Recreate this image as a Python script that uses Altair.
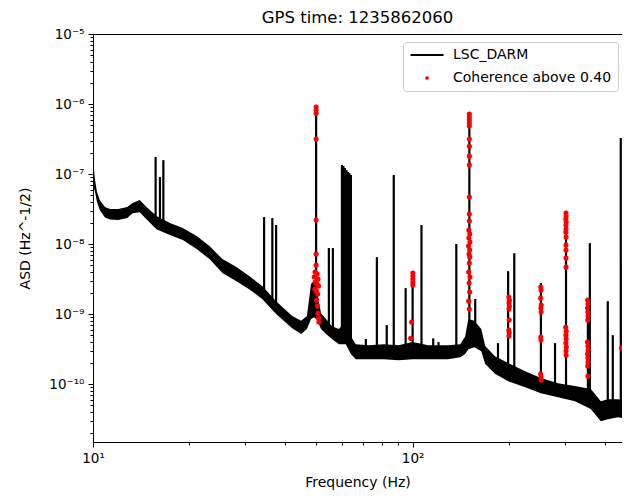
import altair as alt
import pandas as pd

# ---------------- data ----------------
band_freq = [10.0, 10.15, 10.29, 10.5, 10.9, 11.3, 12.0, 12.8, 13.3, 14.0, 14.7, 15.8, 17.4, 19.1,
             21.1, 23.15, 25.4, 28.1, 30.8, 33.9, 37.4, 42.0, 44.8, 46.7, 48.1, 49.2, 50.2, 51.7,
             53.6, 55.9, 58.8, 61.8, 64.1, 66.4, 72.9, 81.2, 90.4, 100, 112, 129, 141, 146, 149.4,
             156, 164, 168.7, 181, 199, 225, 252, 285, 322, 361, 388, 408, 439, 471, 488]
band_hi = [1.58e-7, 8.2e-8, 5.53e-8, 4.25e-8, 3.38e-8, 3.16e-8, 3.16e-8, 3.38e-8, 3.85e-8, 4.25e-8,
           3.38e-8, 2.51e-8, 2.0e-8, 1.69e-8, 1.3e-8, 9.4e-9, 6.1e-9, 4.7e-9, 3.5e-9, 2.5e-9,
           1.53e-9, 9.4e-10, 8.0e-10, 9.4e-10, 2.7e-9, 3.0e-9, 2.1e-9, 1.03e-9, 8.5e-10, 6.7e-10,
           6.1e-10, 8.0e-10, 4.8e-10, 3.7e-10, 3.6e-10, 3.7e-10, 3.6e-10, 4.0e-10, 3.6e-10,
           3.6e-10, 3.7e-10, 4.8e-10, 8.5e-10, 8.0e-10, 6.1e-10, 3.5e-10, 2.5e-10, 2.0e-10,
           1.53e-10, 1.22e-10, 1.03e-10, 9.4e-11, 8.5e-11, 5.7e-11, 6.1e-11, 6.1e-11, 5.7e-11, 5.8e-11]
band_lo = [6.97e-8, 5.53e-8, 3.98e-8, 3.06e-8, 2.4e-8, 2.25e-8, 2.2e-8, 2.35e-8, 2.75e-8, 2.85e-8,
           2.27e-8, 1.63e-8, 1.35e-8, 1.14e-8, 8.5e-9, 6.1e-9, 3.85e-9, 2.95e-9, 2.27e-9, 1.63e-9,
           1.0e-9, 6.3e-10, 5.2e-10, 6.1e-10, 8.5e-10, 9.0e-10, 8.3e-10, 6.1e-10, 5.2e-10, 4.4e-10,
           3.7e-10, 3.7e-10, 2.7e-10, 2.27e-10, 2.27e-10, 2.27e-10, 2.2e-10, 2.27e-10, 2.27e-10, 2.27e-10,
           2.42e-10, 2.7e-10, 3.15e-10, 3.37e-10, 2.95e-10, 1.93e-10, 1.4e-10, 1.1e-10, 9.0e-11,
           7.4e-11, 6.5e-11, 5.7e-11, 4.4e-11, 2.95e-11, 3.15e-11, 3.37e-11, 3.15e-11, 3.2e-11]

spike_freq = [15.7, 16.2, 16.6, 34.3, 36.4, 37.4, 49.9, 54.7, 56.3, 60.1, 60.75, 61.4, 62.1, 62.75,
              63.4, 64.1, 71.4, 77.3, 83.0, 87.3, 95.1, 100.0, 106.6, 116, 120.5, 137, 150.5, 157,
              185, 199, 208, 252, 279, 302, 353.5, 358.5, 408, 423, 448, 454]
spike_top = [1.75e-7, 9.06e-8, 1.58e-7, 2.43e-8, 2.35e-8, 1.87e-8, 9.7e-7, 8.77e-9, 8.77e-9, 1.35e-7,
             1.3e-7, 1.22e-7, 1.14e-7, 1.07e-7, 1.03e-7, 9.7e-8, 4.4e-10, 6.5e-9, 6.97e-10, 9.7e-8,
             2.35e-9, 3.85e-9, 1.87e-8, 4.5e-10, 3.98e-10, 1.0e-8, 7.7e-7, 1.64e-9, 3.85e-10, 4.1e-9,
             7.4e-9, 2.77e-9, 3.85e-10, 2.77e-8, 1.64e-9, 1.03e-8, 1.53e-9, 5.0e-10, 3.27e-7, 5.35e-9]
spike_base = [1.9e-8, 1.8e-8, 1.7e-8, 2.0e-9, 1.6e-9, 1.3e-9, 1.6e-9, 6.3e-10, 5.9e-10, 4.5e-10,
              4.5e-10, 4.5e-10, 4.5e-10, 4.5e-10, 4.5e-10, 4.5e-10, 3e-10, 3e-10, 3e-10, 3e-10,
              3e-10, 3e-10, 3e-10, 3e-10, 3e-10, 3e-10, 4.5e-10, 4.5e-10, 1.8e-10, 1.5e-10,
              1.4e-10, 1.0e-10, 8.5e-11, 8e-11, 6.5e-11, 6.5e-11, 4.5e-11, 4.5e-11, 4.5e-11, 4.5e-11]

coh_freq = [
    # 50 Hz
    49.9, 49.9, 49.9, 49.9, 49.9, 49.9, 49.9, 49.5, 50.3, 49.2, 50.6, 49.6, 50.2, 50.8, 49.4,
    50.0, 50.5, 50.1, 50.4, 50.6, 50.8, 50.9,
    # 100 Hz
    100.2, 100.2, 100.2, 100.2, 100.2, 99.3, 98.6,
    # 150 Hz
    150.5, 150.5, 150.5, 150.5, 150.5, 150.5, 150.5, 150.5, 150.5, 150.5, 150.5, 150.5, 150.0,
    151.0, 150.0, 151.2, 149.6, 150.8, 150.2, 151.0, 150.5, 149.8, 151.2, 150.3, 150.8, 149.8, 150.4,
    # 200 Hz
    200.0, 200.8, 200.3, 200.8, 200.2, 200.5, 200.0, 200.6, 200.2,
    # 250 Hz
    251.8, 252.4, 251.6, 252.6, 252.0, 252.4, 251.8, 252.2, 251.5, 252.3, 252.8,
    # 300 Hz
    301.9, 302.2, 301.5, 302.4, 301.8, 302.0, 301.6, 302.2, 301.9, 302.0, 301.9, 302.1, 301.4,
    302.6, 301.8, 302.4, 301.6, 302.8, 302.0, 302.3,
    # 353 Hz
    353.0, 353.8, 352.6, 353.4, 354.0, 353.2, 352.4, 353.6, 354.2, 352.8, 353.5, 354.0, 353.1, 353.6,
    # 450 Hz
    450,
]
coh_asd = [
    9.06e-7, 8.2e-7, 7.4e-7, 3.16e-7, 2.2e-8, 7.2e-9, 5.0e-9, 3.98e-9, 3.73e-9, 3.38e-9, 3.16e-9,
    2.86e-9, 2.68e-9, 2.51e-9, 2.28e-9, 2.13e-9, 1.93e-9, 1.58e-9, 1.3e-9, 1.03e-9, 8.77e-10, 7.7e-10,
    3.85e-9, 3.49e-9, 3.16e-9, 2.86e-9, 2.6e-9, 7.7e-10, 4.5e-10,
    7.2e-7, 6.5e-7, 5.9e-7, 5.35e-7, 4.85e-7, 3.16e-7, 2.5e-7, 1.8e-7, 1.35e-7, 4.7e-8, 2.68e-8,
    2.13e-8, 1.58e-8, 1.39e-8, 1.22e-8, 1.07e-8, 9.4e-9, 8.2e-9, 7.2e-9, 6.5e-9, 5.35e-9, 3.98e-9,
    3.38e-9, 2.77e-9, 2.06e-9, 1.53e-9, 1.18e-9,
    1.75e-9, 1.58e-9, 1.44e-9, 1.3e-9, 1.18e-9, 8.2e-10, 5.9e-10, 5.35e-10, 4.85e-10,
    2.43e-9, 2.2e-9, 1.69e-9, 1.35e-9, 1.22e-9, 1.07e-9, 4.7e-10, 4.25e-10, 1.39e-10, 1.26e-10, 1.14e-10,
    2.77e-8, 2.51e-8, 2.28e-8, 2.06e-8, 1.87e-8, 1.64e-8, 1.48e-8, 1.26e-8, 9.7e-9, 8.2e-9, 6.3e-9,
    4.7e-9, 6.5e-10, 5.7e-10, 5.0e-10, 4.4e-10, 3.85e-10, 3.38e-10, 2.96e-10, 2.6e-10,
    1.58e-9, 1.39e-9, 1.22e-9, 1.07e-9, 9.4e-10, 8.2e-10, 3.98e-10, 3.49e-10, 3.06e-10, 2.68e-10,
    2.35e-10, 2.06e-10, 1.81e-10, 1.3e-10,
    3.27e-10,
]

series_names = ["LSC_DARM", "Coherence above 0.40"]
series_colors = ["black", "red"]

x_ticks = [10, 20, 30, 40, 50, 60, 70, 80, 90, 100, 200, 300, 400]
y_ticks = [2e-11, 3e-11, 4e-11, 5e-11, 6e-11, 7e-11, 8e-11, 9e-11,
           1e-10, 2e-10, 3e-10, 4e-10, 5e-10, 6e-10, 7e-10, 8e-10, 9e-10,
           1e-9, 2e-9, 3e-9, 4e-9, 5e-9, 6e-9, 7e-9, 8e-9, 9e-9,
           1e-8, 2e-8, 3e-8, 4e-8, 5e-8, 6e-8, 7e-8, 8e-8, 9e-8,
           1e-7, 2e-7, 3e-7, 4e-7, 5e-7, 6e-7, 7e-7, 8e-7, 9e-7,
           1e-6, 2e-6, 3e-6, 4e-6, 5e-6, 6e-6, 7e-6, 8e-6, 9e-6, 1e-5]

# ---------------- chart ----------------
FONT = "DejaVu Sans"
band_df = pd.DataFrame({"f": band_freq, "hi": band_hi, "lo": band_lo})
spike_df = pd.DataFrame({"f": spike_freq, "top": spike_top, "base": spike_base})
coh_df = pd.DataFrame({"f": coh_freq, "v": coh_asd})
legend_df = pd.DataFrame({"series": series_names, "f": [1.0, 1.0], "v": [1e-3, 1e-3]})

x_scale = alt.Scale(type="log", domain=[10, 452], nice=False)
y_scale = alt.Scale(type="log", domain=[1.49e-11, 1e-5], nice=False)

major_test = "abs(log(datum.value)/LN10 - round(log(datum.value)/LN10)) < 0.001"
sup = "['⁰','¹','²','³','⁴','⁵','⁶','⁷','⁸','⁹','¹⁰','¹¹']"
expo = "round(log(datum.value)/LN10)"
label_expr = f"({major_test}) ? ('10' + ({expo} < 0 ? '⁻' : '') + {sup}[abs({expo})]) : ''"
tick_size = {"condition": {"test": major_test, "value": 5}, "value": 3}

x_axis = alt.Axis(title="Frequency (Hz)", values=x_ticks, labelExpr=label_expr, tickSize=tick_size,
                  labelFlush=False, labelOverlap=False, labelPadding=4, titlePadding=11, grid=False)
y_axis = alt.Axis(title="ASD (Hz^-1/2)", values=y_ticks, labelExpr=label_expr, tickSize=tick_size,
                  labelFlush=False, labelOverlap=False, labelPadding=4, titlePadding=16, grid=False,
                  labelBaseline="middle")

X = lambda: alt.X("f:Q", scale=x_scale, axis=x_axis)

band = alt.Chart(band_df).mark_area(color="black", strokeWidth=0).encode(
    x=X(), y=alt.Y("hi:Q", scale=y_scale, axis=y_axis), y2="lo:Q")

spikes = alt.Chart(spike_df).mark_rule(color="black", strokeWidth=2.2).encode(
    x=X(), y=alt.Y("top:Q", scale=y_scale, axis=y_axis), y2="base:Q")

coh = alt.Chart(coh_df).mark_point(filled=True, shape="circle", color="red", size=26,
                                   opacity=1, strokeWidth=0).encode(
    x=X(), y=alt.Y("v:Q", scale=y_scale, axis=y_axis))

leg = alt.Legend(title=None, orient="none", legendX=310, legendY=8, padding=6,
                 strokeColor="#cccccc", fillColor="white", cornerRadius=3, labelFontSize=14,
                 labelFont=FONT, symbolOffset=11, labelOffset=19, rowPadding=9,
                 symbolStrokeWidth=0, labelColor="black")
line_path = "M-3,-0.18L3,-0.18L3,0.18L-3,0.18Z"
legend_layer = alt.Chart(legend_df).mark_point(filled=True, opacity=1, clip=True, strokeWidth=0).encode(
    x=X(), y=alt.Y("v:Q", scale=y_scale, axis=y_axis),
    color=alt.Color("series:N", scale=alt.Scale(domain=series_names, range=series_colors), legend=leg),
    shape=alt.Shape("series:N", scale=alt.Scale(domain=series_names, range=[line_path, "circle"]), legend=leg),
    size=alt.Size("series:N", scale=alt.Scale(domain=series_names, range=[121, 14]), legend=leg),
)

chart = alt.layer(band, spikes, coh, legend_layer).properties(
    width=529, height=408,
    title=alt.TitleParams("GPS time: 1235862060", fontSize=16.5, font=FONT, fontWeight="normal",
                          offset=1, anchor="middle", color="black"),
    autosize=alt.AutoSizeParams(type="none"),
    padding={"left": 85, "top": 26, "right": 0, "bottom": 48},
).configure(font=FONT).configure_axis(
    labelFont=FONT, titleFont=FONT, labelFontSize=13.5, titleFontSize=14, titleFontWeight="normal",
    labelColor="black", titleColor="black", domainColor="black", tickColor="black",
    domainWidth=1, tickWidth=1,
).configure_view(stroke="black", strokeWidth=1)

chart.save("out.html", embed_options={"renderer": "svg", "actions": False})
